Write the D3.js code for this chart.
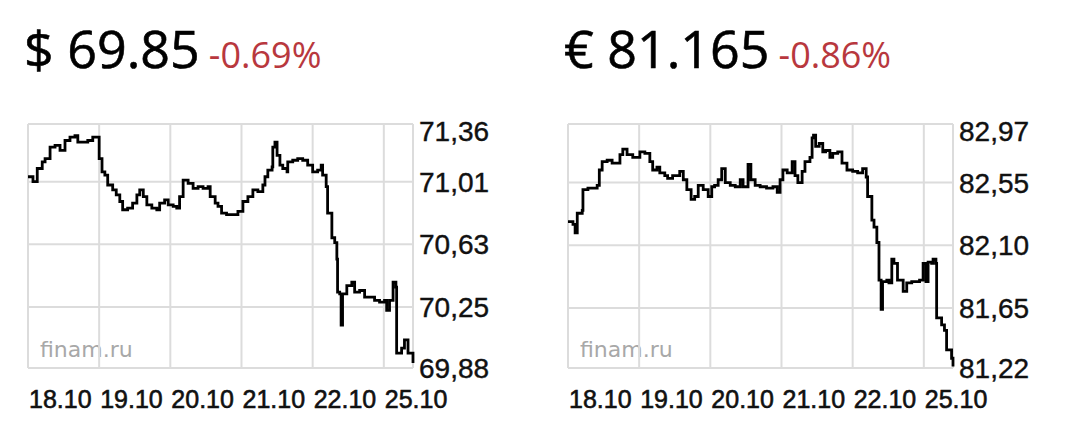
<!DOCTYPE html>
<html>
<head>
<meta charset="utf-8">
<script src="https://cdn.jsdelivr.net/npm/d3@7"></script>
<style>
  html, body { margin: 0; padding: 0; background: #fff; }
  svg { display: block; }
</style>
</head>
<body>
<div id="chart"></div>
<script>
// day labels on the x axis (trading days)
const days = ["18.10", "19.10", "20.10", "21.10", "22.10", "25.10"]

// USD/RUB: [time in days from 18.10, rate]
const usdSeries = [
  [0, 71.04], [0.07, 71.01], [0.13, 71.09], [0.2, 71.13], [0.24, 71.15], [0.31, 71.22],
  [0.38, 71.23], [0.45, 71.2], [0.52, 71.26], [0.59, 71.28], [0.66, 71.29], [0.7, 71.25],
  [0.77, 71.25], [0.84, 71.26], [0.91, 71.28], [0.97, 71.28], [1.0, 71.15], [1.04, 71.07],
  [1.08, 71.05], [1.12, 70.99], [1.19, 70.96], [1.24, 70.93], [1.29, 70.89], [1.33, 70.84],
  [1.4, 70.85], [1.47, 70.88], [1.53, 70.93], [1.57, 70.96], [1.62, 70.92], [1.67, 70.87],
  [1.74, 70.85], [1.81, 70.84], [1.85, 70.88], [1.92, 70.9], [1.97, 70.87], [2.04, 70.86],
  [2.09, 70.85], [2.13, 70.92], [2.18, 71.02], [2.25, 71.0], [2.32, 70.97], [2.39, 70.98],
  [2.46, 70.97], [2.53, 70.98], [2.56, 70.92], [2.63, 70.88], [2.67, 70.86], [2.72, 70.82],
  [2.79, 70.81], [2.88, 70.81], [2.95, 70.83], [3.02, 70.89], [3.09, 70.92], [3.16, 70.96],
  [3.23, 70.95], [3.3, 70.99], [3.33, 71.04], [3.37, 71.08], [3.43, 71.1], [3.44, 71.22],
  [3.47, 71.25], [3.5, 71.17], [3.54, 71.11], [3.58, 71.09], [3.64, 71.07], [3.65, 71.13],
  [3.72, 71.14], [3.79, 71.15], [3.86, 71.14], [3.93, 71.11], [4.0, 71.07], [4.07, 71.08],
  [4.12, 71.11], [4.14, 71.05], [4.19, 70.98], [4.21, 70.82], [4.27, 70.67], [4.31, 70.64],
  [4.34, 70.54], [4.35, 70.34], [4.38, 70.33], [4.4, 70.14], [4.42, 70.33], [4.48, 70.38],
  [4.55, 70.4], [4.59, 70.34], [4.66, 70.35], [4.73, 70.31], [4.8, 70.31], [4.87, 70.29],
  [4.94, 70.28], [5.01, 70.29], [5.04, 70.23], [5.08, 70.29], [5.13, 70.4], [5.17, 70.37],
  [5.18, 69.97], [5.25, 70.0], [5.29, 70.05], [5.34, 69.97], [5.41, 69.91]
]

// EUR/RUB
const eurSeries = [
  [0, 82.27], [0.07, 82.25], [0.1, 82.19], [0.13, 82.33], [0.2, 82.35], [0.21, 82.5],
  [0.28, 82.51], [0.35, 82.51], [0.41, 82.53], [0.44, 82.64], [0.48, 82.7], [0.55, 82.71],
  [0.62, 82.69], [0.69, 82.69], [0.73, 82.75], [0.77, 82.79], [0.83, 82.75], [0.91, 82.73],
  [1.01, 82.77], [1.08, 82.76], [1.15, 82.7], [1.19, 82.64], [1.25, 82.66], [1.29, 82.62],
  [1.36, 82.6], [1.4, 82.58], [1.47, 82.6], [1.57, 82.63], [1.62, 82.57], [1.67, 82.5],
  [1.73, 82.43], [1.78, 82.45], [1.83, 82.53], [1.9, 82.5], [1.97, 82.45], [2.02, 82.52],
  [2.06, 82.53], [2.11, 82.57], [2.16, 82.65], [2.21, 82.55], [2.28, 82.53], [2.35, 82.52],
  [2.42, 82.57], [2.46, 82.52], [2.53, 82.68], [2.57, 82.57], [2.63, 82.53], [2.7, 82.52],
  [2.79, 82.51], [2.88, 82.52], [2.94, 82.48], [2.98, 82.57], [3.02, 82.64], [3.08, 82.62],
  [3.15, 82.7], [3.19, 82.6], [3.23, 82.55], [3.29, 82.63], [3.33, 82.7], [3.4, 82.73],
  [3.43, 82.87], [3.45, 82.89], [3.48, 82.81], [3.53, 82.83], [3.58, 82.77], [3.62, 82.78],
  [3.68, 82.73], [3.72, 82.76], [3.79, 82.77], [3.85, 82.69], [3.92, 82.64], [4.0, 82.63],
  [4.07, 82.62], [4.14, 82.65], [4.19, 82.59], [4.21, 82.45], [4.27, 82.28], [4.3, 82.23],
  [4.34, 82.12], [4.37, 81.85], [4.4, 81.64], [4.42, 81.84], [4.48, 81.85], [4.51, 81.83],
  [4.55, 82.0], [4.58, 81.97], [4.63, 81.85], [4.71, 81.77], [4.76, 81.83], [4.83, 81.84],
  [4.9, 81.84], [4.94, 81.85], [4.99, 81.97], [5.03, 81.84], [5.06, 81.98], [5.11, 81.97],
  [5.13, 82.0], [5.17, 81.97], [5.18, 81.58], [5.25, 81.53], [5.29, 81.49], [5.32, 81.35],
  [5.39, 81.29], [5.41, 81.23]
]

const usdTicks = [71.36, 71.01, 70.63, 70.25, 69.88]
const eurTicks = [82.97, 82.55, 82.10, 81.65, 81.22]

const usdHeader = { price: "$ 69.85", change: "-0.69%" }
const eurHeader = { price: "€ 81.165", change: "-0.86%" }

const width = 1080
const height = 439

const svg = d3.select("#chart")
  .append("svg")
  .attr("width", width)
  .attr("height", height)

const tEnd = 5.41

function drawPanel(offsetX, header, series, ticks) {
  const g = svg.append("g").attr("transform", `translate(${offsetX},0)`)

  const x = d3.scaleLinear().domain([0, tEnd]).range([28, 413])
  const y = d3.scaleLinear().domain([d3.min(ticks), d3.max(ticks)]).range([368, 124])

  // header: price and change
  const price = g.append("text")
    .attr("x", 24)
    .attr("y", 68)
    .style("font-family", "'Open Sans', sans-serif")
    .style("font-size", "52px")
    .attr("fill", "#000")
    .attr("stroke", "#000")
    .attr("stroke-width", 0.6)
    .text(header.price)

  const priceWidth = price.node().getComputedTextLength()
  g.append("text")
    .attr("x", 24 + priceWidth + 9)
    .attr("y", 68)
    .style("font-family", "'Open Sans', sans-serif")
    .style("font-size", "36px")
    .attr("fill", "#b8383e")
    .text(header.change)

  // watermark
  g.append("text")
    .attr("x", 40)
    .attr("y", 357)
    .style("font-family", "'DejaVu Sans', sans-serif")
    .style("font-size", "22px")
    .attr("fill", "#a8a8a8")
    .text("finam.ru")

  // grid
  const gridColor = "#dcdcdc"
  g.append("g")
    .selectAll("line")
    .data(ticks)
    .join("line")
    .attr("x1", x(0))
    .attr("x2", x(tEnd))
    .attr("y1", (d) => y(d))
    .attr("y2", (d) => y(d))
    .attr("stroke", gridColor)
    .attr("stroke-width", 2)

  g.append("g")
    .selectAll("line")
    .data(d3.range(days.length).concat([tEnd]))
    .join("line")
    .attr("x1", (d) => x(d))
    .attr("x2", (d) => x(d))
    .attr("y1", y.range()[1])
    .attr("y2", y.range()[0])
    .attr("stroke", gridColor)
    .attr("stroke-width", 2)

  // y labels on the right, top one pushed down to stay inside
  g.append("g")
    .selectAll("text")
    .data(ticks)
    .join("text")
    .attr("x", 419)
    .attr("y", (d) => Math.max(y(d), 131))
    .attr("dy", "0.36em")
    .style("font-family", "'Liberation Sans', Arial, sans-serif")
    .style("font-size", "28px")
    .attr("fill", "#111")
    .attr("stroke", "#111")
    .attr("stroke-width", 0.4)
    .text((d) => d3.format(".2f")(d).replace(".", ","))

  // day labels, left aligned at the gridline
  g.append("g")
    .selectAll("text")
    .data(days)
    .join("text")
    .attr("x", (d, i) => x(i) + 1)
    .attr("y", 408)
    .style("font-family", "'Liberation Sans', Arial, sans-serif")
    .style("font-size", "25px")
    .attr("fill", "#111")
    .attr("stroke", "#111")
    .attr("stroke-width", 0.6)
    .text((d) => d)

  // price line
  const line = d3.line()
    .x((d) => x(d[0]))
    .y((d) => y(d[1]))
    .curve(d3.curveStepAfter)

  g.append("path")
    .datum(series)
    .attr("d", line)
    .attr("fill", "none")
    .attr("stroke", "#000")
    .attr("stroke-width", 2.8)
}

drawPanel(0, usdHeader, usdSeries, usdTicks)
drawPanel(540, eurHeader, eurSeries, eurTicks)
</script>
</body>
</html>
